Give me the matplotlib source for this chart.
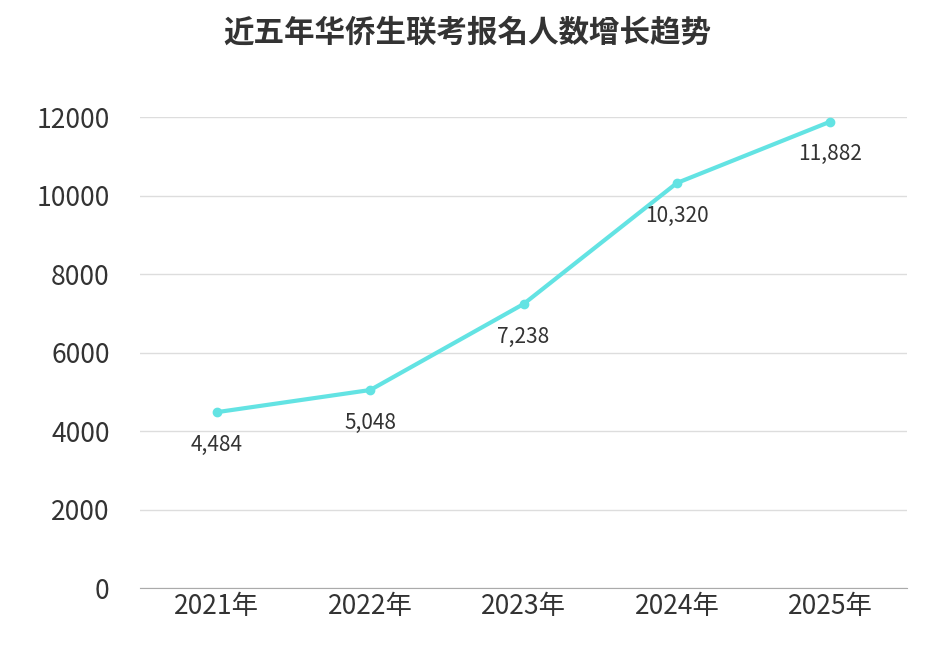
import matplotlib.pyplot as plt
from matplotlib import font_manager

years = ["2021年", "2022年", "2023年", "2024年", "2025年"]
counts = [4484, 5048, 7238, 10320, 11882]
labels = ["4,484", "5,048", "7,238", "10,320", "11,882"]

names = {f.name for f in font_manager.fontManager.ttflist}
cjk = [n for n in ["Noto Sans CJK SC", "Noto Sans CJK JP", "Noto Sans CJK TC", "Noto Sans CJK KR"] if n in names]
plt.rcParams["font.family"] = "sans-serif"
plt.rcParams["font.sans-serif"] = cjk + ["DejaVu Sans"]

fig = plt.figure(figsize=(9.35, 6.5), dpi=100)
ax = fig.add_axes([0.15, 0.095, 0.82, 0.725])

x = range(len(years))
ax.plot(x, counts, color="#63e3e3", lw=3, marker="o", ms=6)
for i, (v, t) in enumerate(zip(counts, labels)):
    ax.text(i, v - 550, t, ha="center", va="top", fontsize=15, color="#333333")

ax.set_xlim(-0.5, 4.5)
ax.set_ylim(0, 12000)
ax.set_yticks(range(0, 12001, 2000))
ax.set_xticks(list(x))
ax.set_xticklabels(years)
ax.tick_params(axis="both", length=0, labelsize=19, colors="#333333")
ax.tick_params(axis="y", pad=22)
ax.grid(axis="y", color="#dddddd", lw=1)
ax.set_axisbelow(True)
for s in ["top", "right", "left"]:
    ax.spines[s].set_visible(False)
ax.spines["bottom"].set_color("#aaaaaa")

fig.suptitle("近五年华侨生联考报名人数增长趋势", x=0.5, y=0.975, fontsize=22,
             fontweight="bold", color="#333333")

fig.savefig("out.png")
